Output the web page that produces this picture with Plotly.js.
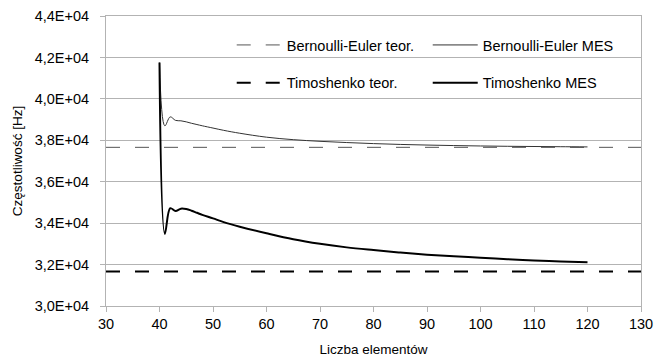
<!DOCTYPE html>
<html>
<head>
<meta charset="utf-8">
<script src="https://cdn.plot.ly/plotly-3.0.1.min.js"></script>
<style>html,body{margin:0;padding:0;background:#fff;}#chart{width:655px;height:361px;}</style>
</head>
<body>
<div id="chart"></div>
<script>
// Number of elements (x) for FEM (MES) results
const elementsMES = [40, 41, 42, 43, 44, 45, 46, 47, 48, 50, 52, 55, 60, 65, 70, 75, 80, 85, 90, 95, 100, 105, 110, 115, 120];
// Bernoulli-Euler MES frequency [Hz]
const bernoulliMES = [41750, 38700, 39130, 38960, 38940, 38890, 38820, 38760, 38700, 38590, 38480, 38340, 38150, 38030, 37950, 37890, 37840, 37800, 37770, 37745, 37725, 37710, 37700, 37690, 37680];
// Timoshenko MES frequency [Hz]
const timoshenkoMES = [41750, 33480, 34720, 34590, 34700, 34680, 34600, 34500, 34400, 34230, 34050, 33830, 33510, 33220, 33000, 32830, 32700, 32580, 32480, 32400, 32330, 32260, 32200, 32150, 32110];
// Theoretical values (constant)
const theoryX = [30, 130];
const bernoulliTheory = 37660;
const timoshenkoTheory = 31660;
// Axis ticks
const yTickVals = [30000, 32000, 34000, 36000, 38000, 40000, 42000, 44000];
const yTickText = ["3,0E+04", "3,2E+04", "3,4E+04", "3,6E+04", "3,8E+04", "4,0E+04", "4,2E+04", "4,4E+04"];
const xTickVals = [30, 40, 50, 60, 70, 80, 90, 100, 110, 120, 130];

const names = ["Bernoulli-Euler teor.", "Bernoulli-Euler MES", "Timoshenko teor.", "Timoshenko MES"];

const traces = [
  {x: theoryX, y: theoryX.map(() => bernoulliTheory), mode: 'lines', name: names[0],
   line: {color: '#555555', width: 1, dash: '14px,15px'}, legend: 'legend'},
  {x: elementsMES, y: bernoulliMES, mode: 'lines', name: names[1],
   line: {color: '#333333', width: 1, shape: 'spline', smoothing: 1}, legend: 'legend'},
  {x: theoryX, y: theoryX.map(() => timoshenkoTheory), mode: 'lines', name: names[2],
   line: {color: '#000000', width: 2, dash: '14px,15px'}, legend: 'legend2'},
  {x: elementsMES, y: timoshenkoMES, mode: 'lines', name: names[3],
   line: {color: '#000000', width: 2, shape: 'spline', smoothing: 1}, legend: 'legend2'}
];

const fontFam = '"Liberation Sans", Arial, sans-serif';
const legendCommon = {orientation: 'h', xref: 'paper', yref: 'paper', xanchor: 'left', yanchor: 'middle',
  bgcolor: 'rgba(0,0,0,0)', entrywidth: 136, entrywidthmode: 'pixels', itemwidth: 45,
  font: {family: fontFam, size: 14.5, color: '#000'}, itemclick: false};

const layout = {
  width: 655, height: 361,
  margin: {l: 106, r: 14, t: 16, b: 55},
  paper_bgcolor: '#fff', plot_bgcolor: '#fff',
  font: {family: fontFam, size: 14.5, color: '#000'},
  showlegend: true,
  legend: Object.assign({}, legendCommon, {x: 0.235, y: 0.9}),
  legend2: Object.assign({}, legendCommon, {x: 0.235, y: 0.77}),
  xaxis: {range: [30, 130], tickvals: xTickVals, showgrid: false, zeroline: false,
    showline: true, linecolor: '#b3b3b3', linewidth: 1, mirror: true,
    ticks: 'outside', ticklen: 5, tickcolor: '#b3b3b3',
    tickfont: {family: fontFam, size: 14.5, color: '#000'},
    title: {text: 'Liczba elementów', font: {family: fontFam, size: 13.5, color: '#000'}, standoff: 13}},
  yaxis: {range: [30000, 44000], tickvals: yTickVals, ticktext: yTickText,
    showgrid: true, gridcolor: '#b3b3b3', gridwidth: 1, zeroline: false,
    showline: true, linecolor: '#b3b3b3', linewidth: 1, mirror: true,
    ticks: 'outside', ticklen: 5, tickcolor: '#b3b3b3', ticklabelstandoff: 8,
    tickfont: {family: fontFam, size: 14.5, color: '#000'},
    title: {text: 'Częstotliwość [Hz]', font: {family: fontFam, size: 13.5, color: '#000'}, standoff: 8}}
};

Plotly.newPlot('chart', traces, layout, {displayModeBar: false, staticPlot: true});
</script>
</body>
</html>
